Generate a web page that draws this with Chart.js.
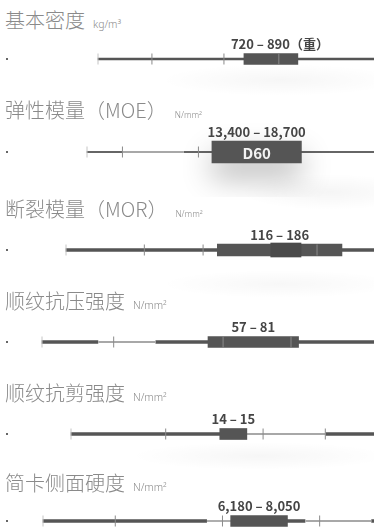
<!DOCTYPE html>
<html>
<head>
<meta charset="utf-8">
<script src="https://cdn.jsdelivr.net/npm/chart.js@4"></script>
<style>
  html, body { margin: 0; padding: 0; }
  body {
    width: 374px; height: 527px; overflow: hidden; position: relative;
    background:
      radial-gradient(ellipse 120px 16px at 280px 80px, rgba(0,0,0,0.035), rgba(0,0,0,0)),
      radial-gradient(ellipse 90px 18px at 330px 192px, rgba(0,0,0,0.04), rgba(0,0,0,0)),
      radial-gradient(ellipse 120px 14px at 280px 284px, rgba(0,0,0,0.03), rgba(0,0,0,0)),
      radial-gradient(ellipse 130px 14px at 260px 456px, rgba(0,0,0,0.035), rgba(0,0,0,0)),
      #fff;
    font-family: "Noto Sans CJK SC", "Noto Sans", sans-serif;
  }
  .title {
    position: absolute; left: 5px; font-size: 20px; font-weight: 300;
    line-height: 20px; color: #8a8a8a; white-space: nowrap;
  }
  .unit { margin-left: 8px; font-family: "Noto Sans", sans-serif; }
  .dot { position: absolute; left: 6px; width: 2px; height: 2px; background: #666; }
  .row { position: absolute; left: 0; width: 374px; height: 90px; }
</style>
</head>
<body>
<script>
  const TITLES = ['基本密度', '弹性模量（MOE）', '断裂模量（MOR）', '顺纹抗压强度', '顺纹抗剪强度', '简卡侧面硬度'];
  const UNITS = ['kg/m³', 'N/mm²', 'N/mm²', 'N/mm²', 'N/mm²', 'N/mm²'];
  const AXIS_MIN = [260, 6000, 31, 13, 8.5, 0];
  const AXIS_MAX = [1130, 23000, 204, 101, 19.7, 10900];
  const RANGE_LOW = [720, 13400, 116, 57, 14, 6180];
  const RANGE_HIGH = [890, 18700, 186, 81, 15, 8050];
  const RANGE_LABELS = ['720 – 890（重）', '13,400 – 18,700', '116 – 186', '57 – 81', '14 – 15', '6,180 – 8,050'];
  const CLASS_LABELS = ['', 'D60', '', '', '', ''];
  const MARKERS = [
    [260, 430, 657, 830],
    [6000, 8100, 12600],
    [31, 75, 108, 172],
    [13, 32, 61, 79],
    [8.5, 12, 15.6, 17.9],
    [0, 2380, 5910, 9110],
  ];
  const CORE_RANGES = [null, null, [146, 163], null, null, null];
  const FAINT_RANGES = [[], [[8100, 11700]], [], [[28, 43]], [[15, 17.9]], [[5410, 6180], [8650, 10800]]];

  // Layout (Pixel), getrennt von den Daten.
  const TITLE_TOP = [10, 100, 199, 291, 383, 473];
  const UNIT_SIZE = [10.5, 8.5, 8.5, 10.5, 10.5, 10.5];
  const LINE_Y = [59, 152, 250, 342, 434, 521];
  const LINE_START = [98, 87, 66, 42, 71, 43];
  const BAR_H = [11, 22, 12, 11, 11, 11];
  const LINE_W = [2, 1.5, 3, 3, 3, 3];
  const LABEL_DX = [9, 0, 0, 0, 0, 0];
  const ROW_H = 90;

  const BAR = '#555555';
  const TICK = '#8a8a8a';
  const FAINT = '#a8a8a8';
  const FONT = '"Noto Sans CJK SC", "Noto Sans", sans-serif';

  Chart.defaults.font.family = FONT;

  // Die Spannweiten-Beschriftung sitzt über dem Balken, die Klasse (D60) darin.
  const rangeLabels = {
    id: 'rangeLabels',
    beforeDatasetDraw(chart, args, opts) {
      if (args.index === opts.barIndex && opts.inner) {
        const ctx = chart.ctx;
        ctx.save();
        ctx.shadowColor = 'rgba(0,0,0,0.3)';
        ctx.shadowBlur = 30;
        ctx.shadowOffsetY = 14;
      }
    },
    afterDatasetDraw(chart, args, opts) {
      if (args.index === opts.barIndex && opts.inner) chart.ctx.restore();
    },
    afterDatasetsDraw(chart, args, opts) {
      const bar = chart.getDatasetMeta(opts.barIndex).data[0];
      const p = bar.getProps(['x', 'base', 'y', 'height'], true);
      const cx = (p.x + p.base) / 2;
      const ctx = chart.ctx;
      ctx.save();
      ctx.textAlign = 'center';
      ctx.textBaseline = 'middle';
      ctx.fillStyle = '#454545';
      ctx.font = 'bold 13px ' + FONT;
      ctx.fillText(opts.text, cx + opts.dx, p.y - p.height / 2 - 9);
      if (opts.inner) {
        ctx.fillStyle = '#f2f2f2';
        ctx.font = 'bold 15px ' + FONT;
        ctx.fillText(opts.inner, cx, p.y + 1);
      }
      ctx.restore();
    },
  };

  function floating(range, color, thickness, order) {
    return {
      type: 'bar',
      indexAxis: 'y',
      data: range ? [range] : [],
      backgroundColor: color,
      barThickness: thickness,
      grouped: false,
      clip: false,
      order: order,
    };
  }

  TITLES.forEach((title, i) => {
    const t = document.createElement('div');
    t.className = 'title';
    t.style.top = TITLE_TOP[i] + 'px';
    t.textContent = title;
    const u = document.createElement('span');
    u.className = 'unit';
    u.style.fontSize = UNIT_SIZE[i] + 'px';
    u.textContent = UNITS[i];
    t.appendChild(u);
    document.body.appendChild(t);

    const d = document.createElement('div');
    d.className = 'dot';
    d.style.top = (LINE_Y[i] - 1) + 'px';
    document.body.appendChild(d);

    const wrap = document.createElement('div');
    wrap.className = 'row';
    wrap.style.top = (LINE_Y[i] - ROW_H / 2) + 'px';
    const canvas = document.createElement('canvas');
    wrap.appendChild(canvas);
    document.body.appendChild(wrap);

    const datasets = [
      {
        type: 'scatter',
        data: MARKERS[i].map((v) => ({ x: v, y: title })),
        pointStyle: 'line',
        pointRotation: 90,
        pointRadius: 5.5,
        pointBorderWidth: 1,
        pointBorderColor: MARKERS[i].map((v, k) => (k === 0 ? '#c4c4c4' : TICK)),
        clip: false,
        order: 0,
      },
      floating(CORE_RANGES[i], '#4a4a4a', BAR_H[i] + 2, 1),
      floating([RANGE_LOW[i], RANGE_HIGH[i]], BAR, BAR_H[i], 2),
    ];
    const barIndex = 2;
    // helle, dünne Abschnitte auf einer weissen Unterlage
    FAINT_RANGES[i].forEach((r) => {
      datasets.push(floating(r, FAINT, 1.2, 3));
      datasets.push(floating(r, '#ffffff', LINE_W[i] + 1, 4));
    });
    datasets.push(floating([AXIS_MIN[i], AXIS_MAX[i]], i === 1 ? '#666666' : BAR, LINE_W[i], 5));

    new Chart(canvas, {
      type: 'bar',
      data: { labels: [title], datasets },
      options: {
        responsive: true,
        maintainAspectRatio: false,
        animation: false,
        events: [],
        // Ohne offset:false staucht Chart.js die lineare x-Achse (Bar-Default).
        layout: { autoPadding: false, padding: { left: LINE_START[i], right: 0, top: 0, bottom: 0 } },
        scales: {
          x: { type: 'linear', axis: 'x', min: AXIS_MIN[i], max: AXIS_MAX[i], offset: false, display: false },
          y: { type: 'category', axis: 'y', labels: [title], display: false, offset: true },
        },
        plugins: {
          legend: { display: false },
          tooltip: { enabled: false },
          rangeLabels: { text: RANGE_LABELS[i], inner: CLASS_LABELS[i], barIndex, dx: LABEL_DX[i] },
        },
      },
      plugins: [rangeLabels],
    });
  });
</script>
</body>
</html>
